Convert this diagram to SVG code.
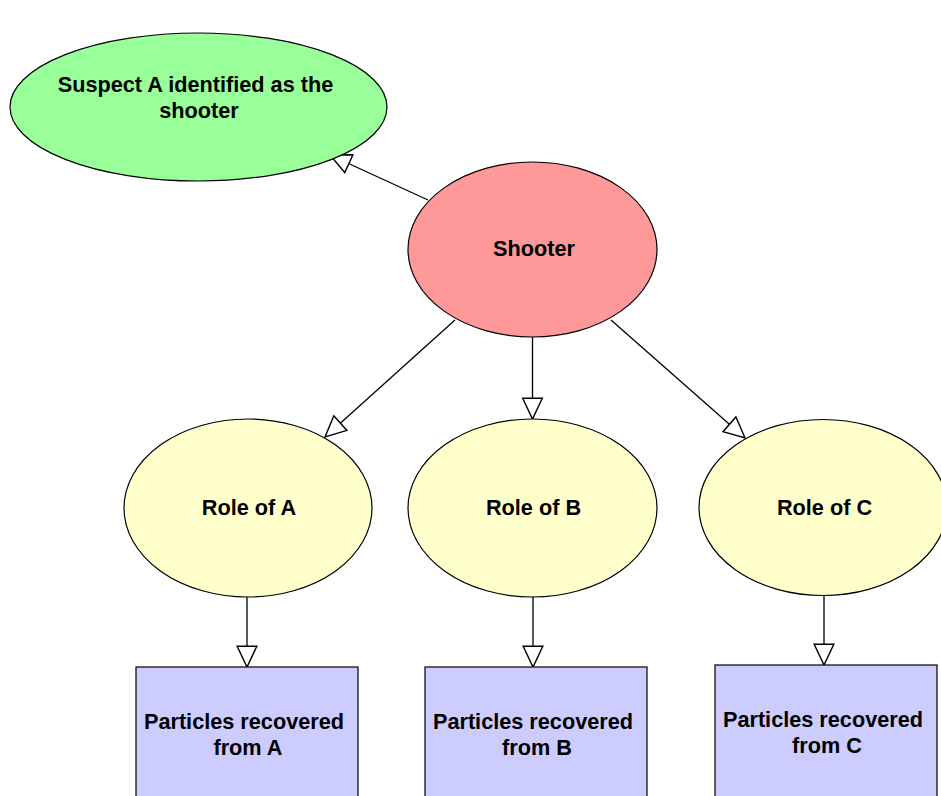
<svg xmlns="http://www.w3.org/2000/svg" width="941" height="796" viewBox="0 0 941 796">
<style>
.n{stroke:#000;stroke-width:1.2}
.t{font-family:"Liberation Sans",Arial,sans-serif;font-weight:bold;font-size:21.7px;fill:#000;text-anchor:middle}
.e{stroke:#000;stroke-width:1.3;fill:none}
</style>
<defs>
<marker id="ah" markerUnits="userSpaceOnUse" markerWidth="24" markerHeight="24" viewBox="-1 -11 21 22" refX="19" refY="0" orient="auto">
<path d="M0,-9 L19,0 L0,9 Z" fill="#fff" stroke="#000" stroke-width="1.3"/>
</marker>
</defs>
<rect width="941" height="796" fill="#fff"/>
<g id="connectors">
<line class="e" x1="428" y1="200" x2="330" y2="155" marker-end="url(#ah)"/>
<line class="e" x1="455" y1="320" x2="325" y2="437" marker-end="url(#ah)"/>
<line class="e" x1="532.5" y1="337" x2="532.5" y2="419" marker-end="url(#ah)"/>
<line class="e" x1="611" y1="320" x2="745" y2="438" marker-end="url(#ah)"/>
<line class="e" x1="247" y1="597" x2="247" y2="667" marker-end="url(#ah)"/>
<line class="e" x1="533" y1="597" x2="533" y2="667" marker-end="url(#ah)"/>
<line class="e" x1="824" y1="596" x2="824" y2="665" marker-end="url(#ah)"/>
</g>
<g id="suspect">
<ellipse class="n" cx="198.5" cy="107" rx="188.5" ry="74" fill="#99ff99"/>
<text class="t" x="195.5" y="92">Suspect A identified as the</text>
<text class="t" x="199" y="118">shooter</text>
</g>
<g id="shooter">
<ellipse class="n" cx="532.5" cy="249.5" rx="124.5" ry="87.5" fill="#ff9999"/>
<text class="t" x="534" y="256">Shooter</text>
</g>
<g id="roleA">
<ellipse class="n" cx="248" cy="508" rx="124" ry="89" fill="#ffffcc"/>
<text class="t" x="249" y="515">Role of A</text>
</g>
<g id="roleB">
<ellipse class="n" cx="532.5" cy="508" rx="124.5" ry="89" fill="#ffffcc"/>
<text class="t" x="533.5" y="515">Role of B</text>
</g>
<g id="roleC">
<ellipse class="n" cx="823" cy="507.5" rx="124" ry="88" fill="#ffffcc"/>
<text class="t" x="824.5" y="515">Role of C</text>
</g>
<g id="particlesA">
<rect class="n" x="136" y="667" width="222" height="140" fill="#ccccff"/>
<text class="t" x="244" y="729">Particles recovered</text>
<text class="t" x="248" y="755">from A</text>
</g>
<g id="particlesB">
<rect class="n" x="425" y="667" width="222" height="140" fill="#ccccff"/>
<text class="t" x="533" y="729">Particles recovered</text>
<text class="t" x="537" y="755">from B</text>
</g>
<g id="particlesC">
<rect class="n" x="715" y="665" width="222" height="140" fill="#ccccff"/>
<text class="t" x="823" y="727">Particles recovered</text>
<text class="t" x="827" y="753">from C</text>
</g>
</svg>
